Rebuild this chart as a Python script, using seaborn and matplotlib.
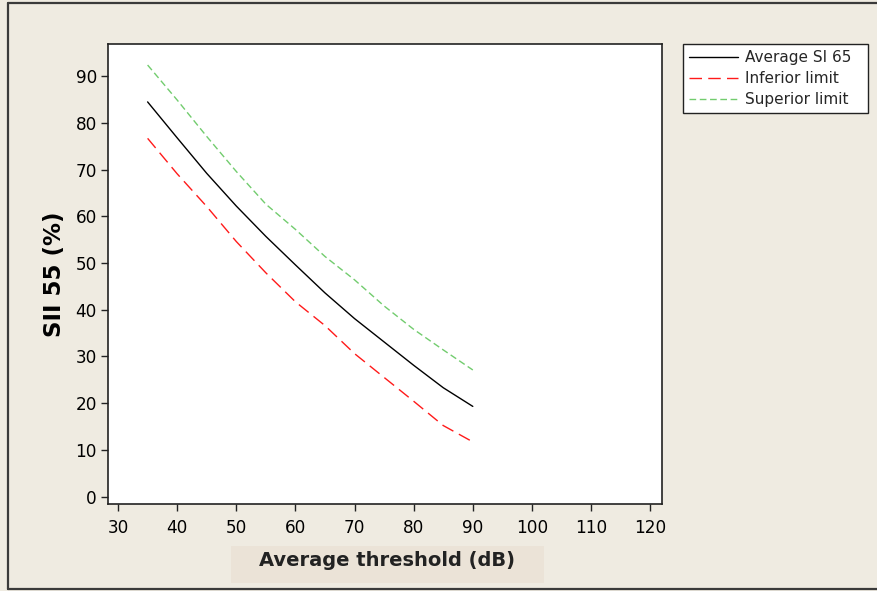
import numpy as np
import pandas as pd
import matplotlib
matplotlib.use("Agg")
import matplotlib.pyplot as plt
from matplotlib.patches import Rectangle
from matplotlib.lines import Line2D
import seaborn as sns

# Average hearing threshold (dB) at which the curves are evaluated
threshold_db = [35, 40, 45, 50, 55, 60, 65, 70, 75, 80, 85, 90]

# SII 55 (%) – mean curve and its limits
average_si65 = [84.5, 76.8, 69.2, 62.2, 55.7, 49.6, 43.6, 38.1, 33.1, 28.1, 23.3, 19.3]
inferior_limit = [76.7, 69.1, 62.1, 54.6, 47.9, 41.7, 36.6, 30.6, 25.5, 20.4, 15.2, 11.7]
superior_limit = [92.4, 84.9, 77.1, 69.6, 62.6, 57.2, 51.4, 46.4, 40.8, 35.8, 31.4, 27.1]

series_names = ["Average SI 65", "Inferior limit", "Superior limit"]
x_ticks = [30, 40, 50, 60, 70, 80, 90, 100, 110, 120]
y_ticks = [0, 10, 20, 30, 40, 50, 60, 70, 80, 90]

df = pd.DataFrame({
    "threshold": threshold_db * 3,
    "sii": average_si65 + inferior_limit + superior_limit,
    "series": np.repeat(series_names, len(threshold_db)),
})

sns.set_theme(style="ticks")
plt.rcParams["font.family"] = ["DejaVu Sans"]

BG = "#EFEBE1"
fig = plt.figure(figsize=(8.77, 5.91), dpi=100, facecolor=BG)
ax = fig.add_axes([108 / 877, 1 - 504 / 591, (662 - 108) / 877, (504 - 44) / 591])
ax.set_facecolor("white")

styles = {
    "Average SI 65": dict(color="black", lw=1.0, dashes=None),
    "Inferior limit": dict(color="#FF1A1A", lw=1.0, dashes=(9.0, 4.5)),
    "Superior limit": dict(color="#72CC6E", lw=1.0, dashes=(4.8, 2.6)),
}
for name in series_names:
    st = styles[name]
    sub = df[df["series"] == name]
    line_kw = {} if st["dashes"] is None else {"dashes": st["dashes"]}
    sns.lineplot(data=sub, x="threshold", y="sii", ax=ax, color=st["color"],
                 linewidth=st["lw"], label=name, **line_kw)

ax.set_xlim(28.3, 122.0)
ax.set_ylim(-1.6, 96.9)
ax.set_xticks(x_ticks)
ax.set_yticks(y_ticks)
ax.set_xlabel("")
ax.set_ylabel("")
ax.tick_params(axis="both", direction="out", length=5, width=1.0, colors="#222222",
               labelcolor="black", labelsize=12.2)
ax.tick_params(axis="x", pad=6)
ax.tick_params(axis="y", pad=3)
for sp in ax.spines.values():
    sp.set_visible(True)
    sp.set_color("#222222")
    sp.set_linewidth(1.2)

# legend outside the plotting area, stretched to a fixed box width
handles, labels = ax.get_legend_handles_labels()
ax.get_legend().remove()
leg = fig.legend(handles, labels, loc="upper left", mode="expand",
                 bbox_to_anchor=(683 / 877, 1 - 114 / 591, (868 - 683) / 877, 70 / 591),
                 borderaxespad=0, fontsize=11, frameon=True, fancybox=False,
                 framealpha=1, edgecolor="#222222", facecolor="white",
                 handlelength=3.2, handletextpad=0.45, labelspacing=0.4, borderpad=0.4)
leg.get_frame().set_linewidth(1.0)

# axis titles
fig.patches.append(Rectangle((231 / 877, 1 - 583 / 591), 313 / 877, 37 / 591,
                             transform=fig.transFigure, facecolor="#EBE3D7",
                             edgecolor="none", zorder=0))
fig.text(387 / 877, 1 - 561 / 591, "Average threshold (dB)", ha="center", va="center",
         fontsize=14, fontweight="bold", color="#222222")
fig.text(54 / 877, 1 - 274.5 / 591, "SII 55 (%)", ha="center", va="center",
         rotation=90, fontsize=16.5, fontweight="bold", color="black")

# outer frame: left, top and bottom edges
x0, y0, y1 = 8 / 877, 1 - 589 / 591, 1 - 3 / 591
for xs, ys in [([x0, x0], [y0, y1]), ([x0, 1.0], [y1, y1]), ([x0, 1.0], [y0, y0])]:
    fig.lines.append(Line2D(xs, ys, transform=fig.transFigure, color="#3A3A3A",
                            linewidth=1.6))

fig.savefig("out.png", dpi=100, facecolor=BG)
